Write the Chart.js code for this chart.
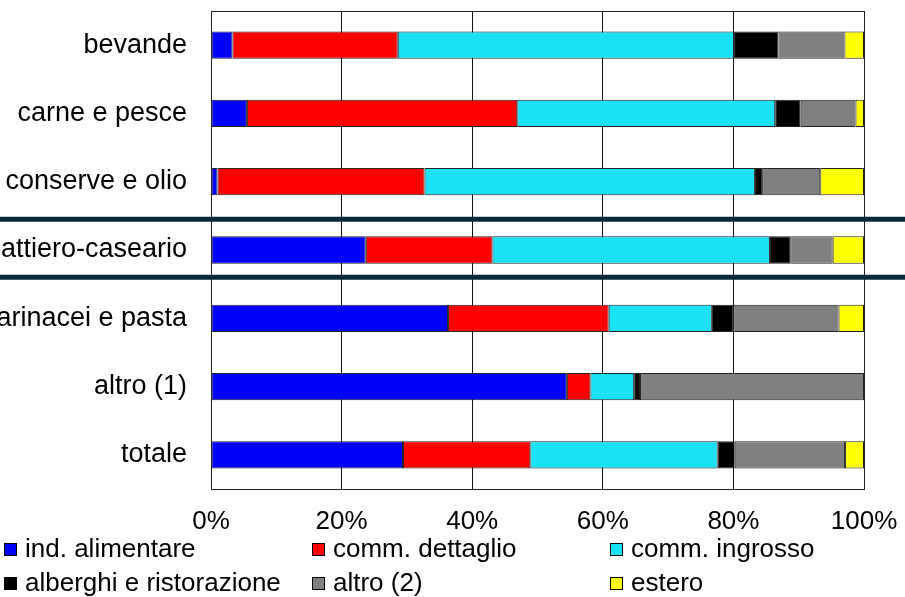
<!DOCTYPE html>
<html>
<head>
<meta charset="utf-8">
<script src="https://cdn.jsdelivr.net/npm/chart.js@4.4.1/dist/chart.umd.min.js"></script>
<style>
  html, body { margin: 0; padding: 0; background: #fff; }
  #wrap { width: 905px; height: 597px; position: relative; }
</style>
</head>
<body>
<div id="wrap"><canvas id="barChart"></canvas></div>
<script>
const categories = ['bevande', 'carne e pesce', 'conserve e olio', 'lattiero-caseario', 'farinacei e pasta', 'altro (1)', 'totale'];

// quote percentuali per canale di vendita
const indAlimentare = [3.3, 5.5, 1.0, 23.7, 36.3, 54.5, 29.4];
const commDettaglio = [25.3, 41.4, 31.7, 19.4, 24.6, 3.6, 19.5];
const commIngrosso = [51.5, 39.5, 50.6, 42.5, 15.8, 6.7, 28.7];
const alberghiRistorazione = [6.8, 3.9, 1.1, 3.1, 3.3, 0.9, 2.6];
const altro2 = [10.1, 8.4, 8.9, 6.5, 16.1, 34.3, 16.9];
const estero = [3.0, 1.3, 6.7, 4.8, 3.9, 0, 2.9];

const xTicks = [0, 20, 40, 60, 80, 100];

const FONT = 'Liberation Sans, Arial, sans-serif';

const makeSet = (label, data, color) => ({
  label: label,
  data: data,
  backgroundColor: color,
  borderColor: '#222',
  borderWidth: 1,
  borderSkipped: false,
  categoryPercentage: 1,
  barPercentage: 0.4
});

const barData = {
  labels: categories,
  datasets: [
    makeSet('ind. alimentare', indAlimentare, '#0000ff'),
    makeSet('comm. dettaglio', commDettaglio, '#ff0000'),
    makeSet('comm. ingrosso', commIngrosso, '#1be1f5'),
    makeSet('alberghi e ristorazione', alberghiRistorazione, '#000000'),
    makeSet('altro (2)', altro2, '#808080'),
    makeSet('estero', estero, '#ffff00')
  ]
};

// riquadro dell'area del grafico + linee di separazione
const framePlugin = {
  id: 'frame',
  afterDatasetsDraw(chart) {
    const { ctx, chartArea: a } = chart;
    ctx.save();
    ctx.strokeStyle = '#222';
    ctx.lineWidth = 1;
    ctx.strokeRect(Math.round(a.left) + 0.5, Math.round(a.top) + 0.5,
      Math.round(a.right - a.left), Math.round(a.bottom - a.top));
    ctx.restore();
  },
  afterDraw(chart) {
    const { ctx, scales } = chart;
    const y = scales.y;
    ctx.save();
    ctx.strokeStyle = '#0a2a3a';
    ctx.lineWidth = 5;
    [2.55, 3.4].forEach(v => {
      const py = y.getPixelForValue(v);
      ctx.beginPath();
      ctx.moveTo(0, py);
      ctx.lineTo(chart.width, py);
      ctx.stroke();
    });
    ctx.restore();
  }
};

// legenda su tre colonne sotto l'asse
const legendPlugin = {
  id: 'gridLegend',
  afterDraw(chart) {
    const { ctx } = chart;
    const colX = [4, 312, 610];
    const rowY = [549, 583];
    ctx.save();
    ctx.font = '26px ' + FONT;
    ctx.textBaseline = 'middle';
    ctx.fillStyle = '#000';
    chart.data.datasets.forEach((ds, i) => {
      const x = colX[i % 3];
      const y = rowY[Math.floor(i / 3)];
      ctx.fillStyle = ds.backgroundColor;
      ctx.fillRect(x, y - 6, 13, 13);
      ctx.strokeStyle = '#000';
      ctx.lineWidth = 1;
      ctx.strokeRect(x + 0.5, y - 5.5, 12, 12);
      ctx.fillStyle = '#000';
      ctx.fillText(ds.label, x + 21, y + 1);
    });
    ctx.restore();
  }
};

const barOptions = {
  indexAxis: 'y',
  responsive: true,
  maintainAspectRatio: false,
  animation: false,
  layout: {
    padding: { top: 11, right: 41, left: 0, bottom: 0 }
  },
  scales: {
    x: {
      stacked: true,
      min: 0,
      max: 100,
      afterFit: (scale) => {
        scale.height = 108;
        scale.paddingLeft = 0;
        scale.paddingRight = 0;
      },
      afterBuildTicks: (scale) => { scale.ticks = xTicks.map(v => ({ value: v })); },
      ticks: {
        color: '#000',
        padding: 17,
        callback: (v) => v + '%',
        font: { family: FONT, size: 26 }
      },
      grid: {
        color: '#111',
        lineWidth: 1,
        drawTicks: false
      },
      border: { display: false }
    },
    y: {
      stacked: true,
      afterFit: (scale) => {
        scale.width = 211;
        scale.paddingTop = 0;
        scale.paddingBottom = 0;
      },
      ticks: {
        color: '#000',
        padding: 24,
        font: { family: FONT, size: 27 }
      },
      grid: { display: false, drawTicks: false },
      border: { display: false }
    }
  },
  plugins: {
    legend: { display: false },
    tooltip: { enabled: false }
  }
};

const barChart = new Chart(document.getElementById('barChart'), {
  type: 'bar',
  data: barData,
  options: barOptions,
  plugins: [framePlugin, legendPlugin]
});
</script>
</body>
</html>
